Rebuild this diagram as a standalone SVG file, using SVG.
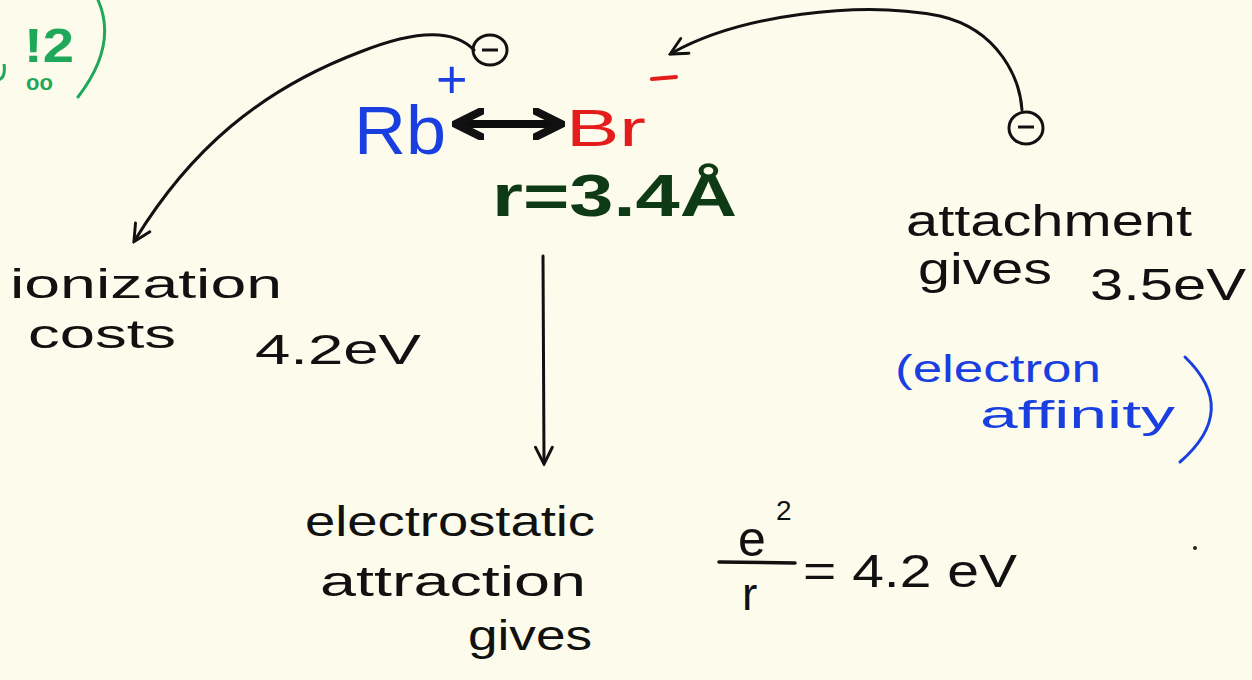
<svg xmlns="http://www.w3.org/2000/svg" width="1252" height="680" viewBox="0 0 1252 680">
<style>
.t{font-family:"Liberation Sans","DejaVu Sans",sans-serif;fill:#111}
.blue{fill:#1a3fe0}
.red{fill:#e51c1c}
.grn{fill:#1fa85a}
.ln{fill:none;stroke:#111;stroke-width:3;stroke-linecap:round}
</style>
<defs>
<marker id="ah" viewBox="0 0 10 10" refX="8" refY="5" markerWidth="7" markerHeight="7" orient="auto-start-reverse" markerUnits="strokeWidth">
<path d="M1,1 L9,5 L1,9" fill="none" stroke="#111" stroke-width="1.4" stroke-linecap="round"/>
</marker>
<marker id="ah2" viewBox="0 0 10 10" refX="7" refY="5" markerWidth="4" markerHeight="4" orient="auto-start-reverse" markerUnits="strokeWidth">
<path d="M1,1 L9,5 L1,9" fill="none" stroke="#111" stroke-width="2.5" stroke-linecap="round"/>
</marker>
</defs>
<rect width="1252" height="680" fill="#fdfcec"/>

<g id="corner-note">
<text class="t grn" x="24" y="62" font-size="48" font-weight="bold" textLength="50" lengthAdjust="spacingAndGlyphs">!2</text>
<text class="t grn" x="26" y="90" font-size="22" font-weight="bold">oo</text>
<path d="M4,64 Q6,78 -2,80" fill="none" stroke="#1fa85a" stroke-width="3"/>
<path d="M98,0 Q118,45 78,97" fill="none" stroke="#1fa85a" stroke-width="3" stroke-linecap="round"/>
</g>

<g id="connectors">
<path class="ln" d="M474,50 C455,30 420,28 360,52 C260,90 190,150 135,240" marker-end="url(#ah)"/>
<path class="ln" d="M1022,110 C1020,80 1000,30 940,16 C860,0 740,15 672,53" marker-end="url(#ah)"/>
<path class="ln" d="M543,256 L544,462" marker-end="url(#ah)"/>
<path d="M462,124 L555,124" fill="none" stroke="#0d0d0d" stroke-width="8" stroke-linecap="round" marker-start="url(#ah2)" marker-end="url(#ah2)"/>
</g>

<g id="electron-left">
<ellipse cx="490" cy="50" rx="17" ry="15" fill="none" stroke="#111" stroke-width="3"/>
<line x1="482" y1="50" x2="498" y2="50" stroke="#111" stroke-width="3"/>
</g>
<g id="electron-right">
<ellipse cx="1026" cy="128" rx="17" ry="16" fill="none" stroke="#111" stroke-width="3"/>
<line x1="1018" y1="127" x2="1034" y2="127" stroke="#111" stroke-width="3"/>
</g>

<g id="ion-pair">
<text class="t blue" x="354" y="154" font-size="68" textLength="92" lengthAdjust="spacingAndGlyphs">Rb</text>
<text class="t blue" x="436" y="98" font-size="54">+</text>
<text class="t red" x="566" y="146" font-size="52" textLength="80" lengthAdjust="spacingAndGlyphs">Br</text>
<line x1="652" y1="79" x2="676" y2="77" stroke="#e51c1c" stroke-width="4" stroke-linecap="round"/>
<text class="t" x="492" y="216" font-size="60" font-weight="bold" style="fill:#0f3a16" textLength="245" lengthAdjust="spacingAndGlyphs">r=3.4Å</text>
</g>

<g id="ionization">
<text class="t" x="10" y="298" font-size="40" textLength="272" lengthAdjust="spacingAndGlyphs">ionization</text>
<text class="t" x="28" y="348" font-size="40" textLength="148" lengthAdjust="spacingAndGlyphs">costs</text>
<text class="t" x="255" y="364" font-size="42" textLength="166" lengthAdjust="spacingAndGlyphs">4.2eV</text>
</g>

<g id="attachment">
<text class="t" x="906" y="236" font-size="44" textLength="286" lengthAdjust="spacingAndGlyphs">attachment</text>
<text class="t" x="918" y="284" font-size="44" textLength="134" lengthAdjust="spacingAndGlyphs">gives</text>
<text class="t" x="1090" y="300" font-size="44" textLength="156" lengthAdjust="spacingAndGlyphs">3.5eV</text>
<text class="t blue" x="895" y="382" font-size="38" textLength="206" lengthAdjust="spacingAndGlyphs">(electron</text>
<text class="t blue" x="980" y="428" font-size="38" textLength="195" lengthAdjust="spacingAndGlyphs">affinity</text>
<path d="M1185,357 Q1240,410 1180,462" fill="none" stroke="#1a3fe0" stroke-width="3" stroke-linecap="round"/>
</g>

<g id="electrostatic">
<text class="t" x="305" y="536" font-size="42" textLength="290" lengthAdjust="spacingAndGlyphs">electrostatic</text>
<text class="t" x="320" y="596" font-size="42" textLength="266" lengthAdjust="spacingAndGlyphs">attraction</text>
<text class="t" x="468" y="650" font-size="42" textLength="124" lengthAdjust="spacingAndGlyphs">gives</text>
</g>

<g id="formula">
<text class="t" x="738" y="556" font-size="50">e</text>
<text class="t" x="776" y="520" font-size="28">2</text>
<line x1="719" y1="562" x2="795" y2="563" stroke="#111" stroke-width="3.5" stroke-linecap="round"/>
<text class="t" x="742" y="610" font-size="46">r</text>
<text class="t" x="803" y="587" font-size="46" textLength="214" lengthAdjust="spacingAndGlyphs">= 4.2 eV</text>
</g>
<circle cx="1195" cy="548" r="2" fill="#222"/>
</svg>
